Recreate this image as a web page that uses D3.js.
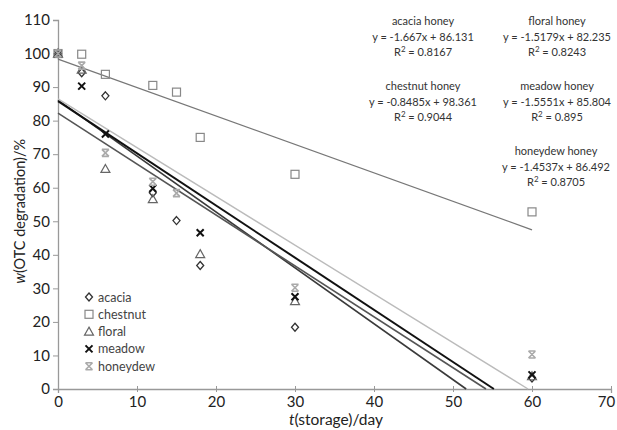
<!DOCTYPE html>
<html lang="en">
<head>
  <meta charset="UTF-8">
  <title>OTC degradation in honey</title>
  <script src="https://d3js.org/d3.v7.min.js"></script>
  <style>
    body { margin: 0; background: #fff; font-family: Lato, "Open Sans", sans-serif; }
    .tick text { font-size: 15px; fill: #222; font-family: Lato, "Open Sans", sans-serif; }
    .eq { font-size: 11px; fill: #333; }
    .legend text { font-size: 12.5px; fill: #444; }
  </style>
</head>
<body>
  <svg width="617" height="430"></svg>

  <script>
    const days = [0, 3, 6, 12, 15, 18, 30, 60];
    const acacia   = [100, 94.3, 87.4, 58.5, 50.2, 36.8, 18.4, 3.3];
    const chestnut = [100, 99.8, 93.8, 90.5, 88.5, 75.0, 64.0, 52.8];
    const floral   = [100, 95.2, 65.6, 56.6, null, 40.2, 26.2, 3.8];
    const meadow   = [100, 90.3, 76.0, 59.8, null, 46.6, 27.5, 4.2];
    const honeydew = [100, 96.4, 70.4, 61.8, 58.4, null, 30.2, 10.3];

    const names = ["acacia", "chestnut", "floral", "meadow", "honeydew"];
    const slopes = [-1.667, -0.8485, -1.5179, -1.5551, -1.4537];
    const intercepts = [86.131, 98.361, 82.235, 85.804, 86.492];
    const r2 = ["0.8167", "0.9044", "0.8243", "0.895", "0.8705"];

    const xTicks = [0, 10, 20, 30, 40, 50, 60, 70];
    const yTicks = [0, 10, 20, 30, 40, 50, 60, 70, 80, 90, 100, 110];

    const series = [acacia, chestnut, floral, meadow, honeydew];
    const markerColor = ["#333", "#888", "#666", "#111", "#aaa"];
    const lineColor = ["#3a3a3a", "#777", "#555", "#111", "#bbb"];
    const lineWidth = [1.6, 1.3, 1.6, 2, 1.4];

    const svg = d3.select("svg");
    const x = d3.scaleLinear().domain([0, 70]).range([58, 611]);
    const y = d3.scaleLinear().domain([0, 110]).range([389, 20]);

    // axes
    const xAxis = svg.append("g")
      .attr("transform", `translate(0,${y(0)})`)
      .call(d3.axisBottom(x).tickValues(xTicks).tickSize(4).tickPadding(3));
    xAxis.selectAll(".tick line").attr("y1", -3).attr("y2", 3);
    // keep the last label inside the window
    xAxis.selectAll(".tick text").filter(d => d === 70).attr("dx", -5);
    const yAxis = svg.append("g")
      .attr("transform", `translate(${x(0)},0)`)
      .call(d3.axisLeft(y).tickValues(yTicks).tickSize(5).tickPadding(3));
    svg.selectAll(".domain").attr("stroke", "#999").attr("stroke-width", 1.3);
    svg.selectAll(".tick line").attr("stroke", "#999");

    // axis titles
    svg.append("text")
      .attr("transform", `translate(25,${y(53)}) rotate(-90)`)
      .attr("text-anchor", "middle")
      .attr("font-size", 14.5).attr("fill", "#222")
      .html('<tspan font-style="italic">w</tspan>(OTC degradation)/%');
    svg.append("text")
      .attr("x", 336).attr("y", 425)
      .attr("text-anchor", "middle")
      .attr("font-size", 15.5).attr("fill", "#222")
      .html('<tspan font-style="italic">t</tspan>(storage)/day');

    // regression lines, clipped at w = 0
    series.forEach((s, i) => {
      const a = slopes[i], b = intercepts[i];
      const xEnd = Math.min(60, -b / a);
      svg.append("line")
        .attr("x1", x(0)).attr("y1", y(b))
        .attr("x2", x(xEnd)).attr("y2", y(a * xEnd + b))
        .attr("stroke", lineColor[i])
        .attr("stroke-width", lineWidth[i]);
    });

    // marker shapes
    function marker(g, i, cx, cy) {
      const c = markerColor[i];
      if (i === 0) {
        g.append("path").attr("d", `M${cx},${cy - 4}L${cx + 3.5},${cy}L${cx},${cy + 4}L${cx - 3.5},${cy}Z`)
          .attr("fill", "none").attr("stroke", c).attr("stroke-width", 1.3);
      } else if (i === 1) {
        g.append("rect").attr("x", cx - 4).attr("y", cy - 4).attr("width", 8).attr("height", 8)
          .attr("fill", "none").attr("stroke", c).attr("stroke-width", 1.2);
      } else if (i === 2) {
        g.append("path").attr("d", `M${cx},${cy - 4.5}L${cx + 4.5},${cy + 3.5}L${cx - 4.5},${cy + 3.5}Z`)
          .attr("fill", "none").attr("stroke", c).attr("stroke-width", 1.2);
      } else if (i === 3) {
        g.append("path").attr("d", `M${cx - 3.5},${cy - 3.5}L${cx + 3.5},${cy + 3.5}M${cx - 3.5},${cy + 3.5}L${cx + 3.5},${cy - 3.5}`)
          .attr("stroke", c).attr("stroke-width", 2);
      } else {
        g.append("path").attr("d", `M${cx - 3.5},${cy - 3.5}L${cx + 3.5},${cy + 3.5}M${cx - 3.5},${cy + 3.5}L${cx + 3.5},${cy - 3.5}M${cx - 3.5},${cy - 3.5}L${cx + 3.5},${cy - 3.5}M${cx - 3.5},${cy + 3.5}L${cx + 3.5},${cy + 3.5}`)
          .attr("stroke", c).attr("stroke-width", 1.6);
      }
    }

    const pts = svg.append("g");
    series.forEach((s, i) => {
      s.forEach((v, j) => {
        if (v === null) return;
        marker(pts, i, x(days[j]), y(v));
      });
    });

    // legend
    const legend = svg.append("g").attr("class", "legend");
    names.forEach((n, i) => {
      const ly = 297 + i * 17.3;
      marker(legend, i, 89, ly);
      legend.append("text").attr("x", 98).attr("y", ly + 4.5).text(n);
    });

    // equations
    const eqPos = [[423, 21], [423, 86], [557, 21], [557, 86], [556, 151]];
    const fmt = d => (d < 0 ? "-" : "") + Math.abs(d);
    names.forEach((n, i) => {
      const [ex, ey] = eqPos[i];
      const t = svg.append("text").attr("class", "eq").attr("text-anchor", "middle");
      t.append("tspan").attr("x", ex).attr("y", ey + 4).text(n + " honey");
      t.append("tspan").attr("x", ex).attr("y", ey + 19.5)
        .text(`y = ${fmt(slopes[i])}x + ${intercepts[i]}`);
      const r = t.append("tspan").attr("x", ex).attr("y", ey + 34.5);
      r.append("tspan").text("R");
      r.append("tspan").attr("font-size", 8).attr("dy", -4).text("2");
      r.append("tspan").attr("dy", 4).text(` = ${r2[i]}`);
    });
  </script>
</body>
</html>
